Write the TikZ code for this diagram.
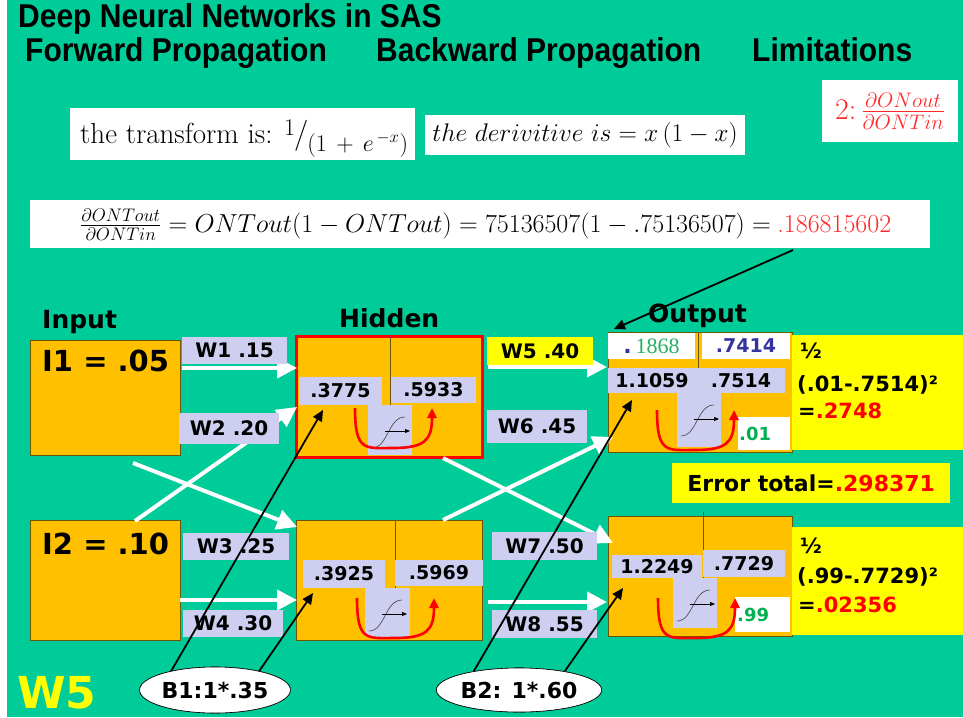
\RequirePackage{fix-cm}
\documentclass[tikz,border=0pt]{standalone}
\usepackage{amsmath}
\usepackage{fontspec}
\usetikzlibrary{arrows.meta,shapes.geometric,calc}
\newfontfamily\djfont{DejaVu Sans}
\newfontfamily\libfont{Liberation Sans}
\newfontfamily\serfont{Liberation Serif}
\newcommand{\fsz}[1]{\fontsize{#1}{#1}\selectfont}
\newcommand{\tall}[1]{\scalebox{1}[1.1]{#1}}
\definecolor{bggreen}{RGB}{0,204,153}
\definecolor{orng}{RGB}{255,192,0}
\definecolor{lav}{RGB}{206,206,240}
\definecolor{yel}{RGB}{255,255,0}
\definecolor{rd}{RGB}{255,0,0}
\definecolor{frd}{RGB}{255,40,40}
\definecolor{grn}{RGB}{0,176,80}
\definecolor{tgrn}{RGB}{40,175,100}
\definecolor{navy}{RGB}{51,51,160}
\definecolor{edge}{RGB}{110,85,0}
\begin{document}
\begin{tikzpicture}[x=1pt,y=-1pt,
 obox/.style={draw=edge,line width=0.8pt,fill=orng,inner sep=0pt,outer sep=0pt,anchor=north west},
 lbl/.style={fill=lav,inner sep=0pt,outer sep=0pt,anchor=north west,font=\djfont\bfseries\fsz{19}},
 wl/.style={fill=lav,inner sep=0pt,outer sep=0pt,anchor=north west,font=\djfont\bfseries\fsz{20}},
 wbox/.style={fill=white,inner sep=0pt,outer sep=0pt,anchor=north west},
 fbox/.style={fill=white,inner sep=0pt,outer sep=0pt,anchor=north west},
 sigbox/.style={fill=lav,inner sep=0pt,outer sep=0pt,anchor=north west},
 hdr/.style={anchor=base west,inner sep=0pt,font=\libfont\bfseries\fsz{30}},
 lay/.style={anchor=base west,inner sep=0pt,font=\djfont\bfseries\fsz{25}},
 numt/.style={inner sep=0pt,font=\djfont\bfseries\fsz{19}},
 pan/.style={anchor=north west,inner sep=0pt,font=\djfont\bfseries\fsz{21}},
 warr/.style={draw=white,line width=4pt,-{Triangle[length=20pt,width=20pt]}},
 barr/.style={draw=black,line width=1.8pt,-{Triangle[length=11pt,width=10pt]}},
 divl/.style={draw=edge,line width=0.8pt},
 bell/.style={ellipse,draw=black,line width=0.6pt,fill=white,inner sep=0pt,outer sep=0pt,minimum width=140pt,minimum height=46pt,font=\djfont\bfseries\fsz{22}},
 uarr/.pic={\draw[rd,line width=2.6pt,-{Triangle[length=10pt,width=9pt]}] (0,0) .. controls (0,44) and (10,40) .. (38,40) .. controls (70,40) and (77,32) .. (77,0);},
 sig/.pic={\draw[black!75,line width=0.6pt] (4,43) .. controls (20,43) and (20,12) .. (37,12);
           \draw[black,line width=0.7pt,-{Triangle[length=5pt,width=4pt]}] (17,26) -- (42,26);},
]
\useasboundingbox (0,0) rectangle (963,717);
\clip (0,0) rectangle (963,717);
\fill[bggreen] (0,0) rectangle (963,717);
\fill[white] (0,0) rectangle (7,717);

% titles
\node[hdr] (t1) at (18,28) {\tall{Deep Neural Networks in SAS}};
\node[hdr] (t2) at (25,62) {\tall{Forward Propagation}};
\node[hdr] (t3) at (376,62) {\tall{Backward Propagation}};
\node[hdr] (t4) at (752,62) {\tall{Limitations}};

% formula boxes
\node[fbox,minimum width=345pt,minimum height=52pt] (tfb) at (70,108) {};
\node[anchor=base west,inner sep=0pt,font=\fsz{29}] (tft) at (80,143) {the transform is: {\fsz{24}\raisebox{8pt}{1}\kern-1pt{\fsz{31}/}\kern-1pt\raisebox{-8pt}{$(1\,+\,e^{\,-x})$}}};
\node[fbox,minimum width=320pt,minimum height=40pt] (dvb) at (425,115) {};
\node[inner sep=0pt,font=\fsz{25.5}] (dvt) at (dvb.center) {$the\ derivitive\ is = x\,(1-x)$};
\node[fbox,minimum width=136pt,minimum height=62pt] (pdb) at (822,80) {};
\node[inner sep=0pt,font=\fsz{30},text=frd] (pdt) at (pdb.center) {$2{:}\,\tfrac{\partial ONout}{\partial ONTin}$};
\node[fbox,minimum width=900pt,minimum height=48pt] (lfb) at (30,200) {};
\node[anchor=base west,inner sep=0pt,font=\fsz{26}] (lft) at (80,232) {$\tfrac{\partial ONTout}{\partial ONTin} = ONTout(1-ONTout) = 75136507(1-.75136507) = $};
\node[anchor=base west,inner sep=0pt,font=\fsz{26},text=frd] (rnum) at ($(lft.base east)+(6,0)$) {.186815602};

% layer labels
\node[lay] (linput) at (42,328) {Input};
\node[lay] (lhidden) at (339,327) {Hidden};
\node[lay] (loutput) at (648,322) {Output};

% input nodes
\node[obox,minimum width=150pt,minimum height=115pt] (I1) at (30,340) {};
\node[anchor=north west,inner sep=0pt,font=\djfont\bfseries\fsz{29}] (I1t) at (42,350) {I1 = .05};
\node[obox,minimum width=150pt,minimum height=120pt] (I2) at (30,520) {};
\node[anchor=north west,inner sep=0pt,font=\djfont\bfseries\fsz{29}] (I2t) at (42,533) {I2 = .10};

% hidden 1
\node[obox,draw=rd,line width=3pt,minimum width=186pt,minimum height=121pt] (H1) at (296,336) {};
\draw[divl] (390,337) -- (390,406);
\node[lbl,minimum width=83pt,minimum height=28pt] (h1a) at (299,377) {.3775};
\node[lbl,minimum width=85pt,minimum height=26pt] (h1b) at (391,377) {.5933};
\node[sigbox,minimum width=44pt,minimum height=50pt] (h1s) at (368,405) {};
\pic at (368,405) {sig};
\pic at (355,408) {uarr};

% hidden 2
\node[obox,minimum width=186pt,minimum height=120pt] (H2) at (296,520) {};
\draw[divl] (395,520) -- (395,588);
\node[lbl,minimum width=82pt,minimum height=28pt] (h2a) at (303,560) {.3925};
\node[lbl,minimum width=88pt,minimum height=26pt] (h2b) at (395,560) {.5969};
\node[sigbox,minimum width=45pt,minimum height=49pt] (h2s) at (365,588) {};
\pic at (365,588) {sig};
\pic at (357,598) {uarr};

% output 1
\node[obox,minimum width=184pt,minimum height=120pt] (O1) at (608,332) {};
\draw[divl] (698,332) -- (698,368);
\node[wbox,minimum width=87pt,minimum height=26pt,font=\serfont\fsz{22},text=tgrn] (o1a) at (608,333) {{\color{navy}\djfont\bfseries.}\,1868};
\node[wbox,minimum width=88pt,minimum height=26pt,font=\djfont\bfseries\fsz{19},text=navy] (o1b) at (702,333) {.7414};
\node[lbl,minimum width=177pt,minimum height=25pt] (o1c) at (608,368) {};
\node[numt] (o1n) at (652,381) {1.1059};
\node[numt] (o1o) at (741,381) {.7514};
\node[sigbox,minimum width=44pt,minimum height=54pt] (o1s) at (677,393) {};
\pic at (677,393) {sig};
\node[wbox,minimum width=52pt,minimum height=33pt] (o1d) at (738,417) {};
\node[anchor=west,inner sep=0pt,font=\djfont\bfseries\fsz{18},text=grn] (o1dt) at (739,434) {.01};
\pic at (657,410) {uarr};
\node[fill=yel,anchor=north west,inner sep=0pt,minimum width=171pt,minimum height=115pt] (o1y) at (792,335) {};
\node[pan] (o1h) at (800,343) {½};
\node[pan] (o1e) at (797,375) {(.01-.7514)²};
\node[pan] (o1r) at (798,403) {=\textcolor{rd}{.2748}};

% output 2
\node[obox,minimum width=184pt,minimum height=120pt] (O2) at (608,516) {};
\draw[divl] (703,512) -- (703,578);
\node[lbl,minimum width=90pt,minimum height=23pt] (o2a) at (612,555) {1.2249};
\node[lbl,minimum width=82pt,minimum height=27pt] (o2b) at (703,550) {.7729};
\node[sigbox,minimum width=44pt,minimum height=50pt] (o2s) at (673,578) {};
\pic at (673,578) {sig};
\node[wbox,minimum width=55pt,minimum height=35pt] (o2d) at (735,597) {};
\node[anchor=west,inner sep=0pt,font=\djfont\bfseries\fsz{18},text=grn] (o2dt) at (737,615) {.99};
\pic at (658,598) {uarr};
\node[fill=yel,anchor=north west,inner sep=0pt,minimum width=171pt,minimum height=108pt] (o2y) at (792,527) {};
\node[pan] (o2h) at (800,538) {½};
\node[pan] (o2e) at (797,567) {(.99-.7729)²};
\node[pan] (o2r) at (798,597) {=\textcolor{rd}{.02356}};

% error total
\node[fill=yel,anchor=north west,inner sep=0pt,minimum width=278pt,minimum height=40pt,font=\djfont\bfseries\fsz{22}] (err) at (672,463) {Error total=\textcolor{rd}{.298371}};

% white connectors
\draw[warr] ($(I1.north east)+(2,28)$) -- ($(H1.north west)+(1,32)$);
\draw[warr] ($(I1.south west)+(103,8)$) -- ($(H2.north west)+(1,7)$);
\draw[warr] ($(I2.north west)+(105,1)$) -- ($(H1.north west)+(1,71)$);
\draw[warr] ($(I2.north east)+(0,80)$) -- ($(H2.north west)+(1,80)$);
\draw[warr] ($(H1.north east)+(6,31)$) -- ($(O1.north west)+(-1,35)$);
\draw[warr] ($(H1.south east)+(-39,1)$) -- ($(O2.north west)+(5,27)$);
\draw[warr] ($(H2.north east)+(-39,0)$) -- ($(O1.north west)+(5,105)$);
\draw[warr] ($(H2.north east)+(6,82)$) -- ($(O2.north west)+(-1,86)$);

% weights (over the white connectors)
\node[wl,minimum width=105pt,minimum height=27pt] (w1) at (182,337) {W1 .15};
\node[wl,minimum width=100pt,minimum height=31pt] (w2) at (179,413) {W2 .20};
\node[wl,minimum width=106pt,minimum height=27pt] (w3) at (183,533) {W3 .25};
\node[wl,minimum width=100pt,minimum height=27pt] (w4) at (183,610) {W4 .30};
\node[wl,fill=yel,minimum width=106pt,minimum height=28pt] (w5) at (487,337) {W5 .40};
\node[wl,minimum width=100pt,minimum height=33pt] (w6) at (487,410) {W6 .45};
\node[wl,minimum width=105pt,minimum height=28pt] (w7) at (492,532) {W7 .50};
\node[wl,minimum width=105pt,minimum height=28pt] (w8) at (492,610) {W8 .55};

% bias ellipses and black connectors
\node[bell] (B1) at (215,690) {B1:1*.35};
\node[bell,minimum width=142pt,minimum height=44pt] (B2) at (519,690) {B2: 1*.60};
\draw[barr] (B1.157) -- ($(h1a.south west)+(24,5)$);
\draw[barr] (B1.23) -- ($(h2a.south west)+(10,5)$);
\draw[barr] (B2.158) -- ($(o1c.south west)+(24,7)$);
\draw[barr] (B2.22) -- ($(o2a.south west)+(11,10)$);
\draw[barr] ($(lfb.south west)+(763,2)$) -- ($(O1.north west)+(6,-3)$);
\node[bell] at (B1) {B1:1*.35};
\node[bell,minimum width=142pt,minimum height=44pt] at (B2) {B2: 1*.60};

% big label
\node[anchor=north west,inner sep=0pt,font=\djfont\bfseries\fsz{44},text=yel] (w5big) at (17,676) {W5};
\end{tikzpicture}
\end{document}
